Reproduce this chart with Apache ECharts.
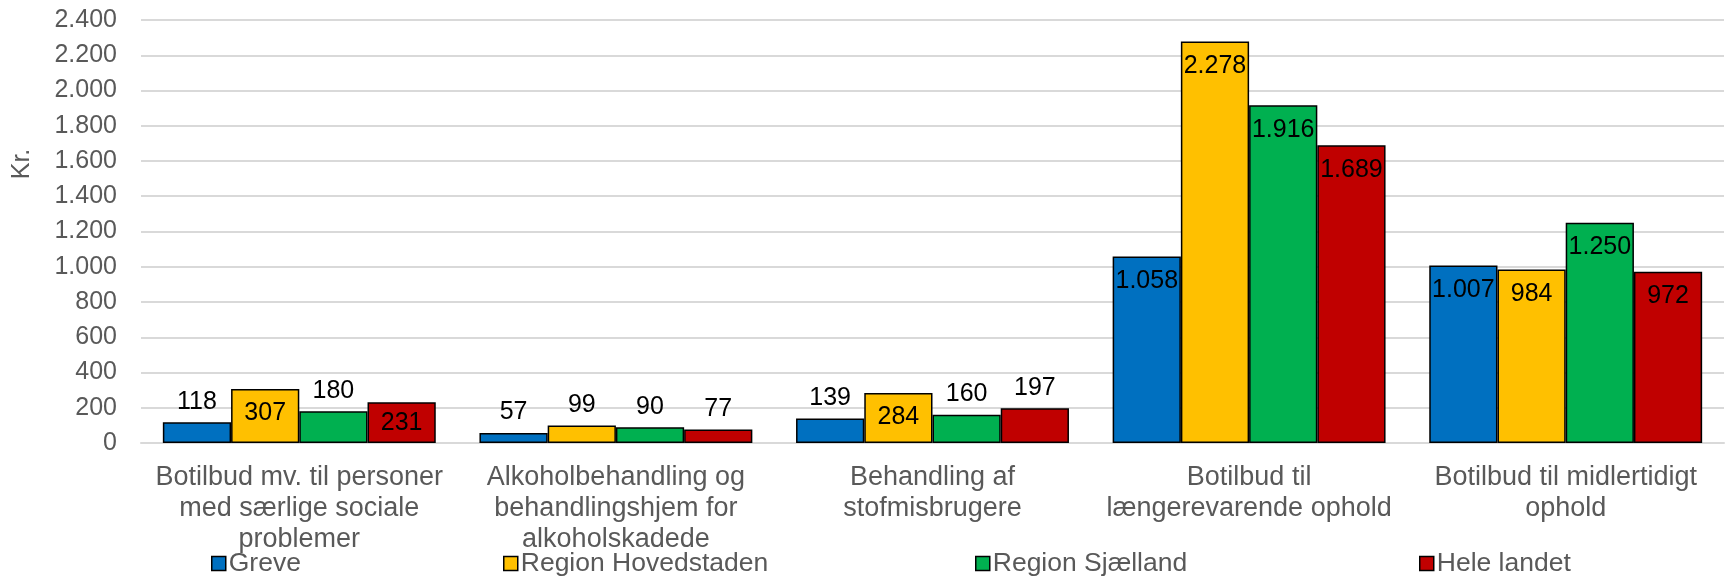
<!DOCTYPE html>
<html>
<head>
<meta charset="utf-8">
<script src="https://cdn.jsdelivr.net/npm/echarts@6/dist/echarts.min.js"></script>
<style>
html,body{margin:0;padding:0;background:#fff;}
#c{width:1725px;height:578px;}
</style>
</head>
<body>
<div id="c"></div>
<script>
const categories = [
  "Botilbud mv. til personer\nmed særlige sociale\nproblemer",
  "Alkoholbehandling og\nbehandlingshjem for\nalkoholskadede",
  "Behandling af\nstofmisbrugere",
  "Botilbud til\nlængerevarende ophold",
  "Botilbud til midlertidigt\nophold"
];
const seriesNames = ["Greve", "Region Hovedstaden", "Region Sjælland", "Hele landet"];
const greve = [118, 57, 139, 1058, 1007];
const regionHovedstaden = [307, 99, 284, 2278, 984];
const regionSjaelland = [180, 90, 160, 1916, 1250];
const heleLandet = [231, 77, 197, 1689, 972];
const yTicks = [0, 200, 400, 600, 800, 1000, 1200, 1400, 1600, 1800, 2000, 2200, 2400];

const colors = ["#0070C0", "#FFC000", "#00B050", "#C00000"];
const FONT = "'Liberation Sans', Arial, sans-serif";
const fmt = v => String(Math.round(v)).replace(/\B(?=(\d{3})+(?!\d))/g, ".");

const allValues = [greve, regionHovedstaden, regionSjaelland, heleLandet];

function labelFor(v) {
  if (v <= 215) return { position: 'top', distance: 8 };
  if (v < 283) return { position: 'inside' };
  return { position: 'insideTop', distance: 12 };
}

const series = allValues.map((vals, i) => ({
  name: seriesNames[i],
  type: 'bar',
  barGap: '0%',
  barCategoryGap: '13.8%',
  itemStyle: { color: colors[i], borderColor: '#000', borderWidth: 1.5 },
  data: vals.map(v => ({ value: v, label: labelFor(v) })),
  label: {
    show: true,
    color: '#000',
    fontFamily: FONT,
    fontSize: 25,
    formatter: p => fmt(p.value)
  }
}));

const legendLefts = [211, 503, 975, 1419];
const legends = seriesNames.map((n, i) => ({
  data: [n],
  left: legendLefts[i],
  top: 550,
  itemWidth: 14,
  itemHeight: 14,
  padding: 0,
  icon: 'rect',
  itemStyle: { borderColor: '#000', borderWidth: 1.5 },
  textStyle: { fontFamily: FONT, fontSize: 26.5, color: '#595959', padding: [0, 0, 0, -2] },
  selectedMode: false
}));

const chart = echarts.init(document.getElementById('c'), null, { renderer: 'canvas' });
chart.setOption({
  animation: false,
  backgroundColor: '#fff',
  color: colors,
  grid: { left: 141, right: 1, top: 20, bottom: 135, containLabel: false },
  legend: legends,
  xAxis: {
    type: 'category',
    data: categories,
    axisTick: { show: false },
    axisLine: { show: true, lineStyle: { color: '#d9d9d9', width: 2 } },
    axisLabel: {
      interval: 0,
      margin: 19,
      fontFamily: FONT,
      fontSize: 27,
      lineHeight: 31,
      color: '#595959'
    }
  },
  yAxis: {
    type: 'value',
    min: yTicks[0],
    max: yTicks[yTicks.length - 1],
    interval: yTicks[1] - yTicks[0],
    axisLine: { show: false },
    axisTick: { show: false },
    splitLine: { lineStyle: { color: '#d9d9d9', width: 2 } },
    axisLabel: {
      margin: 24,
      fontFamily: FONT,
      fontSize: 25,
      color: '#595959',
      formatter: v => fmt(v)
    }
  },
  graphic: [{
    type: 'text',
    x: 22,
    y: 164,
    rotation: Math.PI / 2,
    style: {
      text: 'Kr.',
      fontFamily: FONT,
      fontSize: 25,
      fill: '#595959',
      textAlign: 'center',
      textVerticalAlign: 'middle'
    }
  }],
  series: series
});
</script>
</body>
</html>
